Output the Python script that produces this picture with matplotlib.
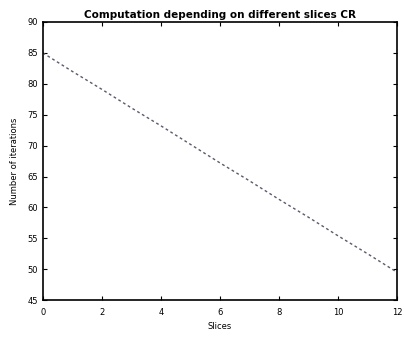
import matplotlib

matplotlib.use("Agg")
import matplotlib.pyplot as plt

# slices vs. computation
slices = [0, 1, 2, 3, 4, 5, 6, 7, 8, 9, 10, 11, 12]
computation = [85.0, 82.0, 79.1, 76.1, 73.2, 70.2, 67.2, 64.3, 61.3, 58.4, 55.4, 52.5, 49.5]
x_ticks = [0, 2, 4, 6, 8, 10, 12]
y_ticks = [45, 50, 55, 60, 65, 70, 75, 80, 85, 90]

fig = plt.figure(figsize=(4.04, 3.38), dpi=100)
ax = fig.add_axes([0.106, 0.112, 0.877, 0.823])

ax.plot(slices, computation, color="#5a5a6e", linestyle=(0, (2, 2)), linewidth=1.0)

ax.set_xlim(0, 12)
ax.set_ylim(45, 90)
ax.set_xticks(x_ticks)
ax.set_yticks(y_ticks)
ax.tick_params(direction="in", top=True, right=True, labelsize=6, length=3)
ax.tick_params(axis="x", pad=6)
for s in ax.spines.values():
    s.set_linewidth(1.2)

ax.set_title("Computation depending on different slices CR", fontsize=7.5, fontweight="bold", pad=3)
ax.set_xlabel("Slices", fontsize=6, labelpad=3)
ax.set_ylabel("Number of iterations", fontsize=6, labelpad=6)

fig.savefig("out.png", dpi=100)
plt.close(fig)
